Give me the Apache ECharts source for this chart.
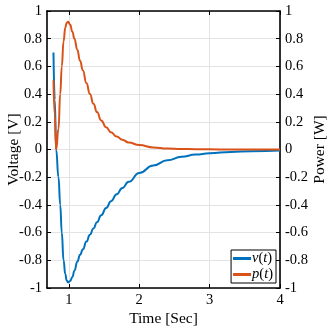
<!DOCTYPE html>
<html>
<head>
<meta charset="utf-8">
<script src="https://cdn.jsdelivr.net/npm/echarts@6/dist/echarts.min.js"></script>
<style>html,body{margin:0;padding:0;background:#fff}#c{width:332px;height:332px}</style>
</head>
<body>
<div id="c"></div>
<script>
var timeVals = [0.782, 0.80, 0.82, 0.853, 0.878, 0.90, 0.925, 0.95, 0.97, 0.99, 1.02, 1.05, 1.08, 1.12, 1.16, 1.20, 1.25, 1.30, 1.35, 1.40, 1.46, 1.53, 1.60, 1.68, 1.76, 1.85, 2.0, 2.2, 2.4, 2.6, 2.8, 3.0, 3.3, 3.6, 4.0];
var voltage = [0.70, 0.36, 0.0, -0.2, -0.4, -0.6, -0.8, -0.9, -0.945, -0.96, -0.95, -0.92, -0.875, -0.81, -0.76, -0.72, -0.665, -0.615, -0.57, -0.525, -0.475, -0.422, -0.373, -0.323, -0.278, -0.233, -0.17, -0.115, -0.078, -0.053, -0.037, -0.027, -0.018, -0.012, -0.008];
var power = [0.50, 0.25, 0.0, 0.15, 0.4, 0.6, 0.78, 0.88, 0.915, 0.923, 0.9, 0.85, 0.8, 0.72, 0.64, 0.57, 0.48, 0.4, 0.33, 0.27, 0.21, 0.16, 0.124, 0.093, 0.07, 0.051, 0.032, 0.015, 0.007, 0.004, 0.002, 0.001, 0.0005, 0.0002, 0.0001];
var xTicks = [1, 2, 3, 4];
var seriesNames = ['v(t)', 'p(t)'];

var font = 'Liberation Serif';
var fs = 14.5;
var nfs = 15.5;
var vData = timeVals.map(function (t, i) { return [t, voltage[i]]; });
var pData = timeVals.map(function (t, i) { return [t, power[i]]; });

var axLine = { show: true, onZero: false, lineStyle: { color: '#000', width: 1.6 } };
var yCommon = {
  type: 'value', min: -1, max: 1, interval: 0.2,
  axisLine: axLine,
  axisTick: { show: true, inside: true, length: 4, lineStyle: { color: '#000', width: 1 } },
  axisLabel: { color: '#000', fontFamily: font, fontSize: fs, margin: 5 },
  nameTextStyle: { color: '#000', fontFamily: font, fontSize: nfs },
  nameLocation: 'middle',
  nameMoveOverlap: false
};
var chart = echarts.init(document.getElementById('c'), null, { renderer: 'canvas' });
chart.setOption({
  animation: false,
  backgroundColor: '#fff',
  grid: { left: 47, right: 52, top: 11, bottom: 44, containLabel: false, outerBoundsMode: 'none' },
  legend: {
    data: seriesNames,
    orient: 'vertical',
    right: 56, bottom: 49,
    backgroundColor: '#fff',
    borderColor: '#000', borderWidth: 1,
    padding: [1, 3, 1, 2],
    itemGap: 1,
    itemWidth: 18, itemHeight: 3,
    icon: 'rect',
    borderRadius: 0,
    textStyle: {
      fontFamily: font, fontSize: fs, color: '#000', padding: [0, 0, 0, -4],
      rich: {
        i: { fontFamily: font, fontSize: fs, fontStyle: 'italic', color: '#000' },
        n: { fontFamily: font, fontSize: fs, color: '#000' }
      }
    },
    formatter: function (name) {
      var letter = name.charAt(0);
      return '{i|' + letter + '}{n|(}{i|t}{n|)}';
    }
  },
  xAxis: [{
    type: 'value', min: 0.69, max: 4, position: 'bottom',
    name: 'Time [Sec]', nameLocation: 'middle', nameGap: 23, nameMoveOverlap: false,
    nameTextStyle: { color: '#000', fontFamily: font, fontSize: nfs },
    axisLine: axLine,
    axisTick: { show: true, inside: true, length: 4, customValues: xTicks, lineStyle: { color: '#000', width: 1 } },
    axisLabel: { customValues: xTicks, color: '#000', fontFamily: font, fontSize: fs, margin: 5 },
    splitLine: { show: true, lineStyle: { color: '#e3e3e3', width: 1 } }
  }, {
    type: 'value', min: 0.69, max: 4, position: 'top',
    axisLine: axLine,
    axisTick: { show: true, inside: true, length: 4, customValues: xTicks, lineStyle: { color: '#000', width: 1 } },
    axisLabel: { show: false },
    splitLine: { show: false }
  }],
  yAxis: [
    Object.assign({}, yCommon, {
      position: 'left', name: 'Voltage [V]', nameGap: 25,
      splitLine: { show: true, lineStyle: { color: '#e3e3e3', width: 1 } }
    }),
    Object.assign({}, yCommon, {
      position: 'right', name: 'Power [W]', nameGap: 32, nameRotate: 90,
      splitLine: { show: false }
    })
  ],
  series: [{
    name: seriesNames[0], type: 'line', data: vData, xAxisIndex: 0, yAxisIndex: 0,
    showSymbol: false, smooth: 0.5, smoothMonotone: 'x', lineStyle: { color: '#0072BD', width: 2 }, itemStyle: { color: '#0072BD' }, z: 3
  }, {
    name: seriesNames[1], type: 'line', data: pData, xAxisIndex: 0, yAxisIndex: 1,
    showSymbol: false, smooth: 0.5, smoothMonotone: 'x', lineStyle: { color: '#D95319', width: 2 }, itemStyle: { color: '#D95319' }, z: 4
  }]
});
</script>
</body>
</html>
